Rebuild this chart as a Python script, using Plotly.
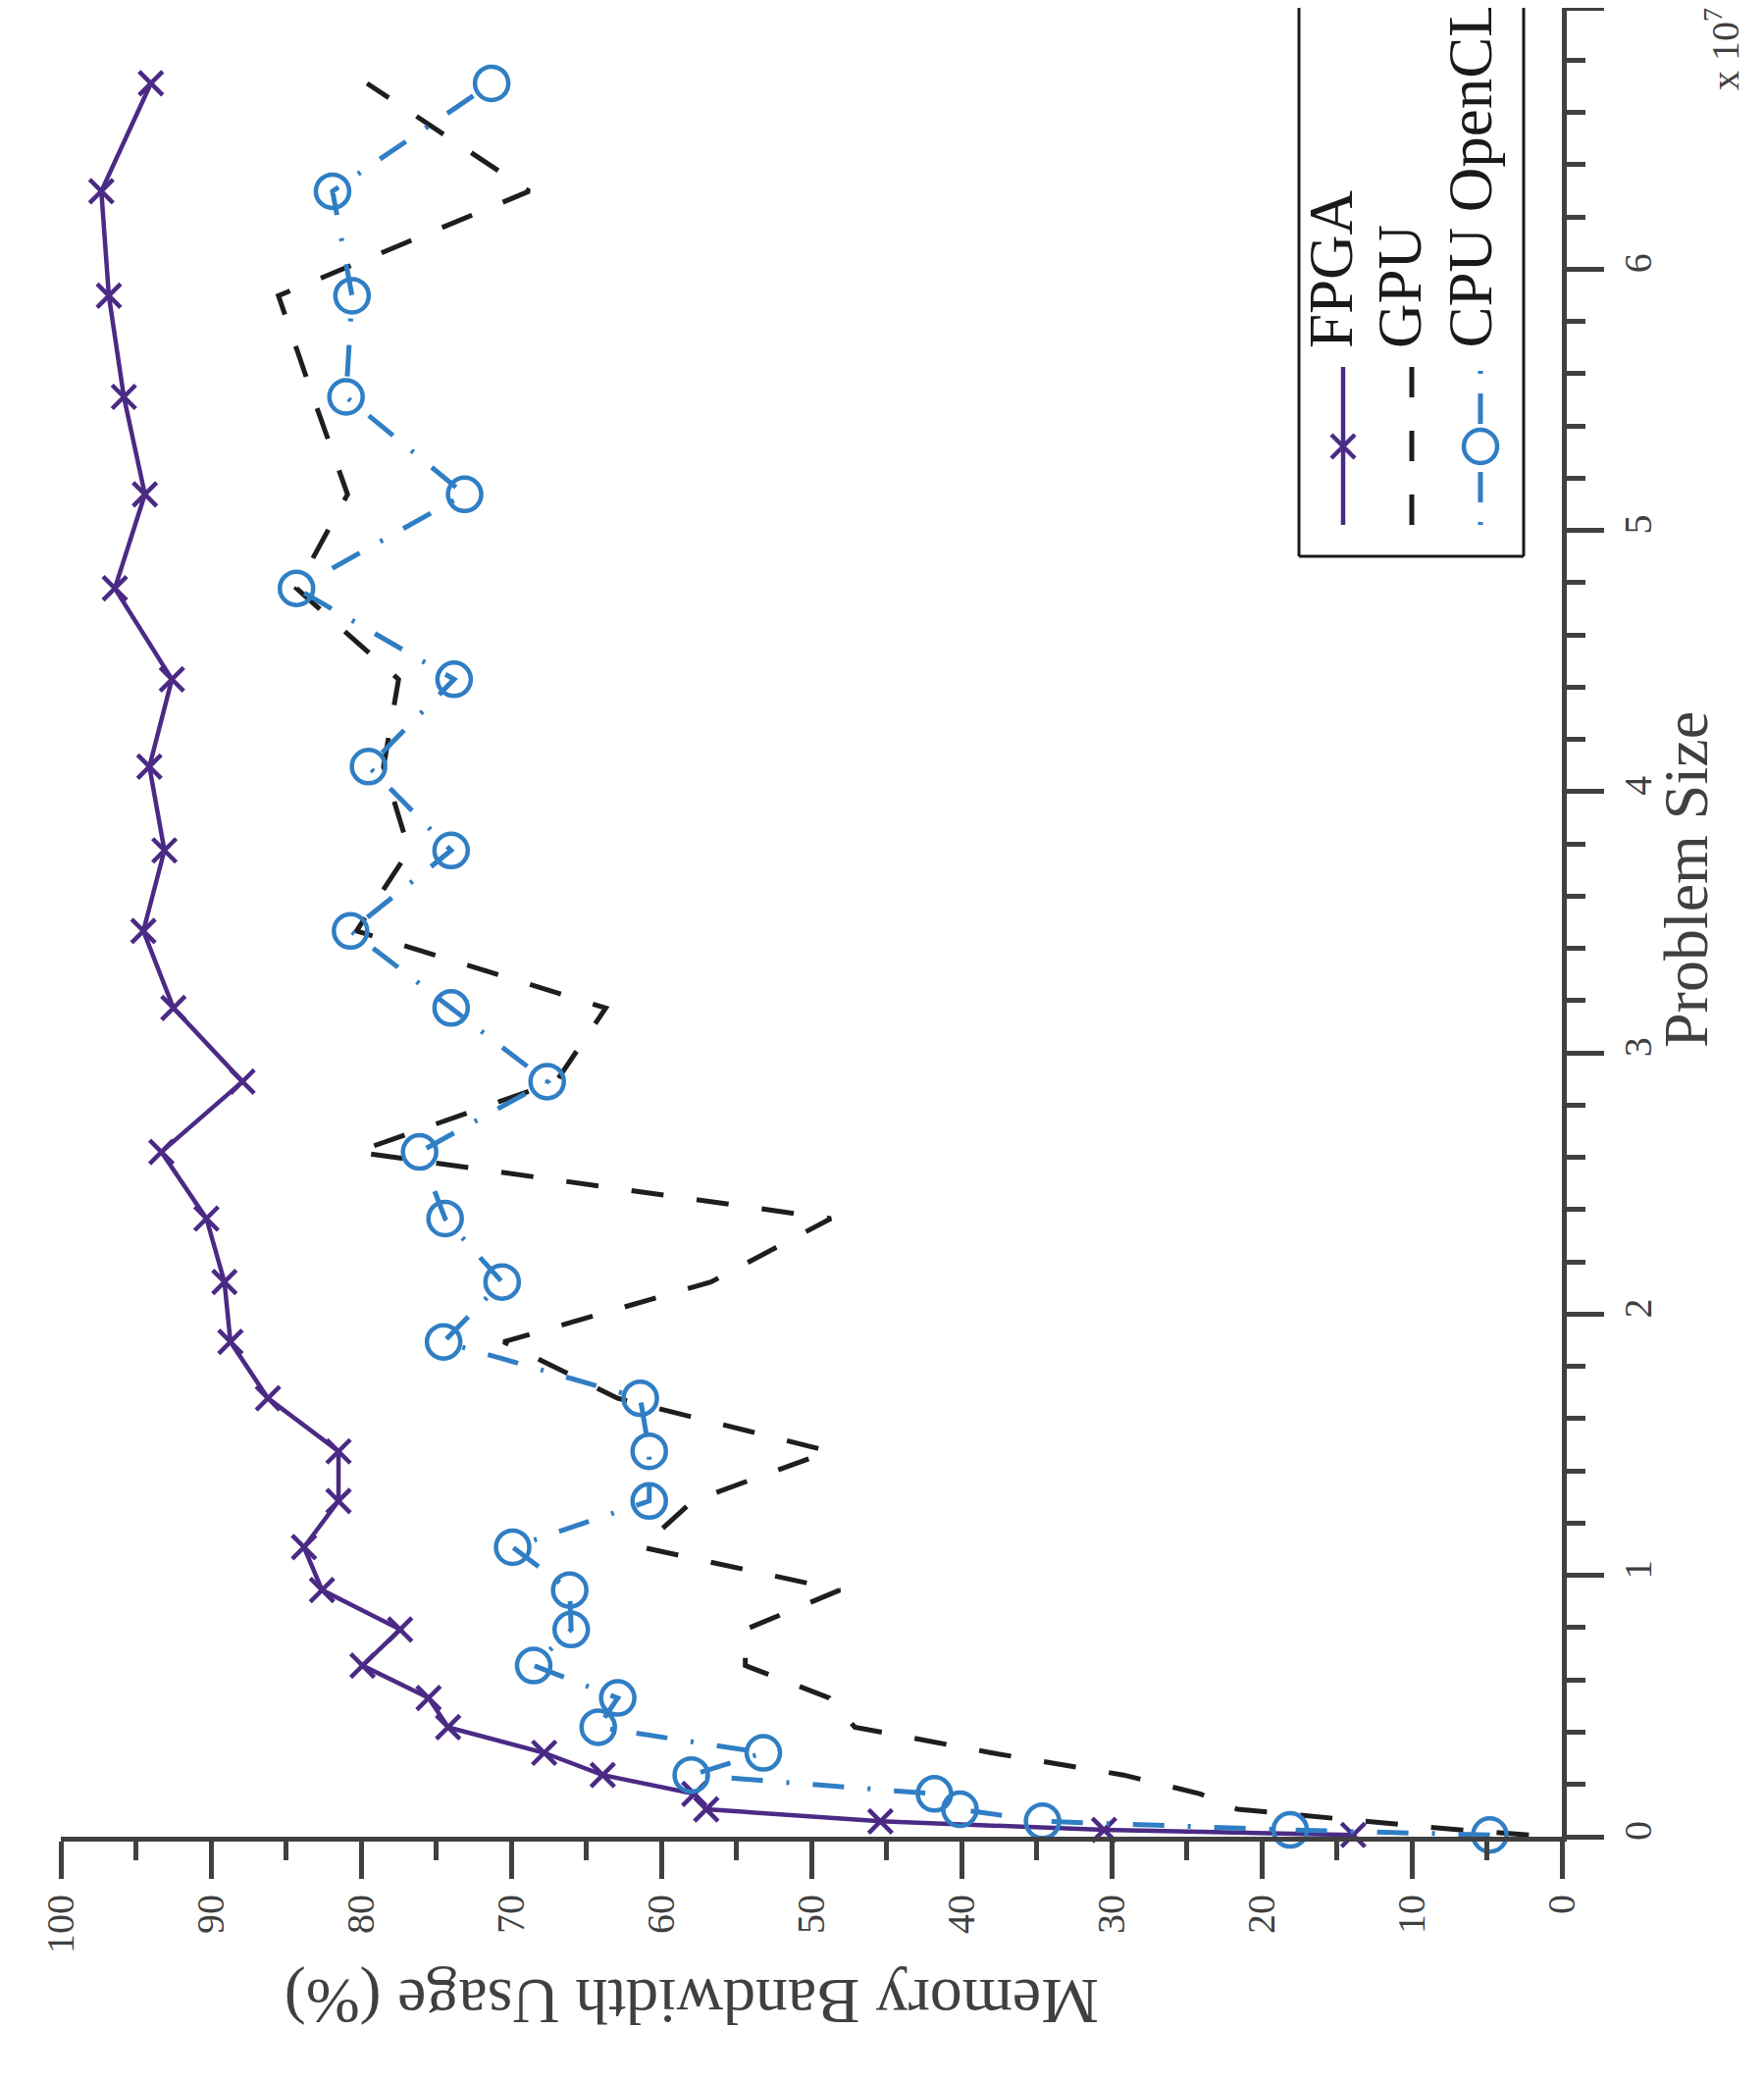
import plotly.graph_objects as go

# ---------------- data (problem size in units of 1e7) ----------------
problem_size_e7 = [0.0066, 0.026, 0.059, 0.105, 0.164, 0.236, 0.321, 0.419, 0.531, 0.655,
                   0.793, 0.944, 1.108, 1.285, 1.475, 1.678, 1.894, 2.123, 2.366, 2.621,
                   2.890, 3.172, 3.467, 3.775, 4.096, 4.430, 4.778, 5.138, 5.511, 5.898,
                   6.298, 6.711]

fpga_bw = [13.9, 30.5, 45.4, 57.0, 57.8, 63.9, 67.8, 74.2, 75.5, 79.9,
           77.4, 82.6, 83.8, 81.5, 81.5, 86.2, 88.7, 89.1, 90.3, 93.3,
           87.9, 92.5, 94.5, 93.1, 94.1, 92.6, 96.4, 94.4, 95.8, 96.8,
           97.3, 94.0]

gpu_bw = [2.2, 6.8, 13.1, 21.6, 24.1, 29.2, 38.0, 47.1, 48.8, 54.4,
          54.4, 48.1, 61.3, 57.9, 48.8, 62.9, 70.5, 56.7, 48.7, 80.3,
          67.0, 63.7, 80.3, 76.8, 78.5, 77.5, 84.3, 80.9, 83.2, 85.5,
          68.8, 79.6]

cpu_bw = [4.8, 18.1, 34.6, 40.1, 41.8, 58.0, 53.2, 64.2, 62.9, 68.5,
          66.0, 66.1, 69.9, 60.8, 60.8, 61.4, 74.5, 70.6, 74.4, 76.1,
          67.6, 74.0, 80.7, 74.0, 79.5, 73.8, 84.3, 73.1, 81.0, 80.6,
          81.9, 71.3]

series_names = ["FPGA", "GPU", "CPU OpenCL"]
x_title = "Memory Bandwidth Usage (%)"
y_title = "Problem Size"
exponent_label = "x 10<sup>7</sup>"

# ---------------- style ----------------
W, H = 1798, 2121
L, R, T, B = 54, 214, 0, 257
PW, PH = W - L - R, H - T - B
FONT = "Liberation Serif, Times New Roman, serif"
AXC = "#404040"
C_FPGA = "#4B2A85"
C_GPU = "#1E1E1E"
C_CPU = "#307EC4"


def px(X):  # figure pixel x -> paper fraction
    return (X - L) / PW


def py(Y):  # figure pixel y -> paper fraction
    return (H - B - Y) / PH


fig = go.Figure()

fig.add_trace(go.Scatter(
    x=fpga_bw, y=problem_size_e7, mode="lines+markers", name=series_names[0],
    line=dict(color=C_FPGA, width=4.5),
    marker=dict(symbol="x-thin-open", size=24, color=C_FPGA, line=dict(color=C_FPGA, width=4.5)),
    cliponaxis=False, showlegend=False))

fig.add_trace(go.Scatter(
    x=gpu_bw, y=problem_size_e7, mode="lines", name=series_names[1],
    line=dict(color=C_GPU, width=5, dash="33px,34px"),
    cliponaxis=False, showlegend=False))

fig.add_trace(go.Scatter(
    x=cpu_bw, y=problem_size_e7, mode="lines+markers", name=series_names[2],
    line=dict(color=C_CPU, width=5, dash="32px,24px,3px,24px"),
    marker=dict(symbol="circle-open", size=34, color=C_CPU, line=dict(color=C_CPU, width=4.5)),
    cliponaxis=False, showlegend=False))

# ---------------- hand-drawn (rotated) legend on overlay axes ----------------
ly0, ly1 = py(527), py(366)
lm = py(447)
fig.add_trace(go.Scatter(x=[px(1361), px(1361)], y=[ly0, ly1], mode="lines",
                         line=dict(color=C_FPGA, width=4.5), xaxis="x2", yaxis="y2",
                         showlegend=False, hoverinfo="skip"))
fig.add_trace(go.Scatter(x=[px(1361)], y=[lm], mode="markers",
                         marker=dict(symbol="x-thin-open", size=24, color=C_FPGA,
                                     line=dict(color=C_FPGA, width=4.5)),
                         xaxis="x2", yaxis="y2", showlegend=False, hoverinfo="skip"))
fig.add_trace(go.Scatter(x=[px(1431), px(1431)], y=[ly0, ly1], mode="lines",
                         line=dict(color=C_GPU, width=5, dash="31px,34px"), xaxis="x2", yaxis="y2",
                         showlegend=False, hoverinfo="skip"))
fig.add_trace(go.Scatter(x=[px(1501), px(1501)], y=[ly0, py(370)], mode="lines",
                         line=dict(color=C_CPU, width=5, dash="3px,20px,31px,49px,31px,20px,3px,200px"),
                         xaxis="x2", yaxis="y2", showlegend=False, hoverinfo="skip"))
fig.add_trace(go.Scatter(x=[px(1501)], y=[lm], mode="markers",
                         marker=dict(symbol="circle-open", size=34, color=C_CPU,
                                     line=dict(color=C_CPU, width=4.5)),
                         xaxis="x2", yaxis="y2", showlegend=False, hoverinfo="skip"))

# legend box: three visible sides (its top runs off the picture)
bx0, bx1, by0 = px(1316), px(1545), py(559)
box_line = dict(color="#1a1a1a", width=3)
fig.add_shape(type="line", xref="paper", yref="paper", x0=bx0, x1=bx0, y0=by0, y1=1.0, line=box_line)
fig.add_shape(type="line", xref="paper", yref="paper", x0=bx1, x1=bx1, y0=by0, y1=1.0, line=box_line)
fig.add_shape(type="line", xref="paper", yref="paper", x0=bx0, x1=bx1, y0=by0, y1=by0, line=box_line)

annotations = []
for name, xc in zip(series_names, [1349, 1419, 1490]):
    annotations.append(dict(text=name, xref="paper", yref="paper", x=px(xc), y=py(349),
                            xanchor="center", yanchor="bottom", textangle=-90, showarrow=False,
                            font=dict(family=FONT, size=63, color="#1a1a1a")))

annotations.append(dict(text=x_title, xref="paper", yref="paper", x=px(697), y=py(2032),
                        xanchor="center", yanchor="middle", textangle=180, showarrow=False,
                        font=dict(family=FONT, size=66, color=AXC)))
annotations.append(dict(text=y_title, xref="paper", yref="paper", x=px(1710), y=py(889),
                        xanchor="center", yanchor="middle", textangle=-90, showarrow=False,
                        font=dict(family=FONT, size=64, color=AXC)))
annotations.append(dict(text=exponent_label, xref="paper", yref="paper", x=px(1748), y=py(86),
                        xanchor="center", yanchor="bottom", textangle=-90, showarrow=False,
                        font=dict(family=FONT, size=40, color=AXC)))

axis_common = dict(showline=True, linecolor=AXC, linewidth=5, ticks="outside", ticklen=38,
                   tickwidth=5, tickcolor=AXC, showgrid=False, zeroline=False,
                   tickangle=-90, tickfont=dict(family=FONT, size=40, color=AXC))

fig.update_layout(
    width=W, height=H, margin=dict(l=L, r=R, t=T, b=B, pad=0),
    paper_bgcolor="white", plot_bgcolor="white",
    showlegend=False,
    xaxis=dict(range=[100, 0], tick0=0, dtick=10, side="bottom", anchor="y",
               minor=dict(dtick=5, ticklen=19, tickwidth=5, tickcolor=AXC, ticks="outside"),
               **axis_common),
    yaxis=dict(range=[0, 7], tick0=0, dtick=1, side="right", anchor="x",
               minor=dict(dtick=0.2, ticklen=19, tickwidth=5, tickcolor=AXC, ticks="outside"),
               **axis_common),
    xaxis2=dict(range=[0, 1], overlaying="x", visible=False, anchor="y2"),
    yaxis2=dict(range=[0, 1], overlaying="y", visible=False, anchor="x2"),
    annotations=annotations,
)

fig.write_html("out.html")
